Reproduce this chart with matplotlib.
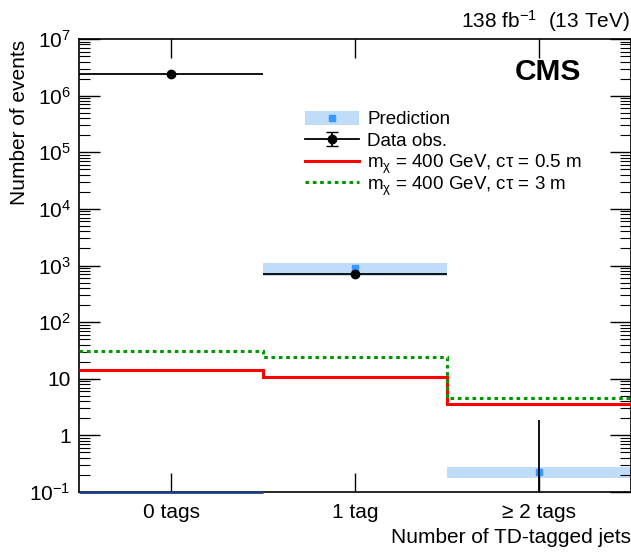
import numpy as np
import matplotlib
matplotlib.use("Agg")
import matplotlib.pyplot as plt
from matplotlib.patches import Rectangle
from matplotlib.ticker import LogLocator, NullFormatter

plt.rcParams['font.family'] = ['Liberation Sans', 'DejaVu Sans']
plt.rcParams['mathtext.fontset'] = 'custom'
plt.rcParams['mathtext.rm'] = 'Liberation Sans'
plt.rcParams['mathtext.it'] = 'Liberation Sans'

# categories and values
categories = ["0 tags", "1 tag", "\u2265 2 tags"]
data_obs = [2.4e6, 700, 0]
data_err_up = [1550, 27, 1.84]
data_err_dn = [1550, 26, 0]
pred = [np.nan, 900, 0.225]
pred_lo = [np.nan, 650, 0.18]
pred_hi = [np.nan, 1120, 0.28]
sig_05m = [14, 10.7, 3.6]
sig_3m = [31, 24, 4.5]

x = np.arange(len(categories))
edges = np.arange(len(categories) + 1) - 0.5

band_col = '#bfdcf8'
pred_col = '#3399ff'
red = '#ff0000'
green = '#009900'
dots = (0, (1.2, 1.2))

fig = plt.figure(figsize=(6.31, 5.54), dpi=100)
ax = fig.add_axes([0.1252, 0.1119, 0.8748, 0.8177])

# prediction band + markers
lo = np.array(pred_lo)
hi = np.array(pred_hi)
ax.bar(x, hi - lo, bottom=lo, width=1.0, color=band_col, linewidth=0, zorder=1)
ax.plot(x, pred, 's', color=pred_col, markersize=5, zorder=2)

# signal histograms
ax.stairs(sig_05m, edges, baseline=None, color=red, linewidth=2.2, zorder=3)
ax.stairs(sig_3m, edges, baseline=None, color=green, linewidth=2.2,
          linestyle=dots, zorder=3)

# observed data
obs = np.array(data_obs, dtype=float)
nz = obs > 0
ax.errorbar(x[nz], obs[nz], xerr=0.5,
            yerr=[np.array(data_err_dn)[nz], np.array(data_err_up)[nz]],
            fmt='o', color='black', markersize=6, elinewidth=1.3, capsize=0, zorder=4)
for xi, yi, up in zip(x, obs, data_err_up):
    if yi == 0:
        ax.vlines(xi, 0.1, up, color='black', linewidth=1.3, zorder=4)

# dark line at the bottom of the 0-tag bin
ax.hlines(0.1, -0.5, 0.5, color='#1f3f7f', linewidth=2, zorder=5, clip_on=False)

ax.set_yscale('log')
ax.set_ylim(0.1, 1e7)
ax.set_xlim(-0.5, 2.5)

ax.set_xticks(x)
ax.set_xticklabels(categories, fontsize=15)
ax.yaxis.set_minor_locator(LogLocator(base=10, subs=np.arange(2, 10), numticks=20))
ax.yaxis.set_minor_formatter(NullFormatter())
yticks = [10.0 ** k for k in range(-1, 8)]
ylabs = [r'$10^{-1}$', '1', '10'] + [r'$10^{%d}$' % k for k in range(2, 8)]
ax.set_yticks(yticks)
ax.set_yticklabels(ylabs, fontsize=15)
ax.tick_params(axis='both', which='both', direction='in', top=True, right=True)
ax.tick_params(axis='y', which='major', length=15, width=1, pad=6)
ax.tick_params(axis='y', which='minor', length=8, width=0.8)
ax.tick_params(axis='x', which='major', length=14, width=1, pad=8)
for s in ax.spines.values():
    s.set_linewidth(1.2)

fig.text(20 / 631, 1 - 40 / 554, 'Number of events', rotation=90,
         ha='center', va='top', fontsize=15)
ax.set_xlabel('Number of TD-tagged jets', fontsize=15, loc='right', labelpad=4)

ax.text(0.909, 0.958, 'CMS', transform=ax.transAxes, ha='right', va='top',
        fontsize=21.5, fontweight='bold')
fig.text(0.999, 1 - 28 / 554, r'138 fb$^{-1}$  (13 TeV)', ha='right', va='baseline', fontsize=15)

# legend drawn by hand so the rows stay evenly spaced
hx0, hx1, tx = 0.409, 0.507, 0.522
rows = [0.826, 0.779, 0.731, 0.684]
labels = ['Prediction', 'Data obs.', r'm$_{\chi}$ = 400 GeV, c$\tau$ = 0.5 m',
          r'm$_{\chi}$ = 400 GeV, c$\tau$ = 3 m']
tr = ax.transAxes
ax.add_patch(Rectangle((hx0, rows[0] - 0.016), hx1 - hx0, 0.032, transform=tr,
                       facecolor=band_col, edgecolor='none', zorder=6))
ax.plot([(hx0 + hx1) / 2], [rows[0]], 's', color=pred_col, markersize=5, transform=tr, zorder=7)
ax.plot([hx0, hx1], [rows[1]] * 2, color='black', linewidth=1.3, transform=tr, zorder=7)
ax.plot([(hx0 + hx1) / 2], [rows[1]], 'o', color='black', markersize=6, transform=tr, zorder=7)
ax.errorbar([(hx0 + hx1) / 2], [rows[1]], yerr=0.016, color='black', elinewidth=1.3,
            capsize=4, transform=tr, zorder=7)
ax.plot([hx0, hx1], [rows[2]] * 2, color=red, linewidth=2.2, transform=tr, zorder=7)
ax.plot([hx0, hx1], [rows[3]] * 2, color=green, linewidth=2.2, linestyle=dots, transform=tr, zorder=7)
for r, lab in zip(rows, labels):
    ax.text(tx, r, lab, transform=tr, ha='left', va='center_baseline', fontsize=13.5, zorder=7)

fig.savefig('out.png', dpi=100)
